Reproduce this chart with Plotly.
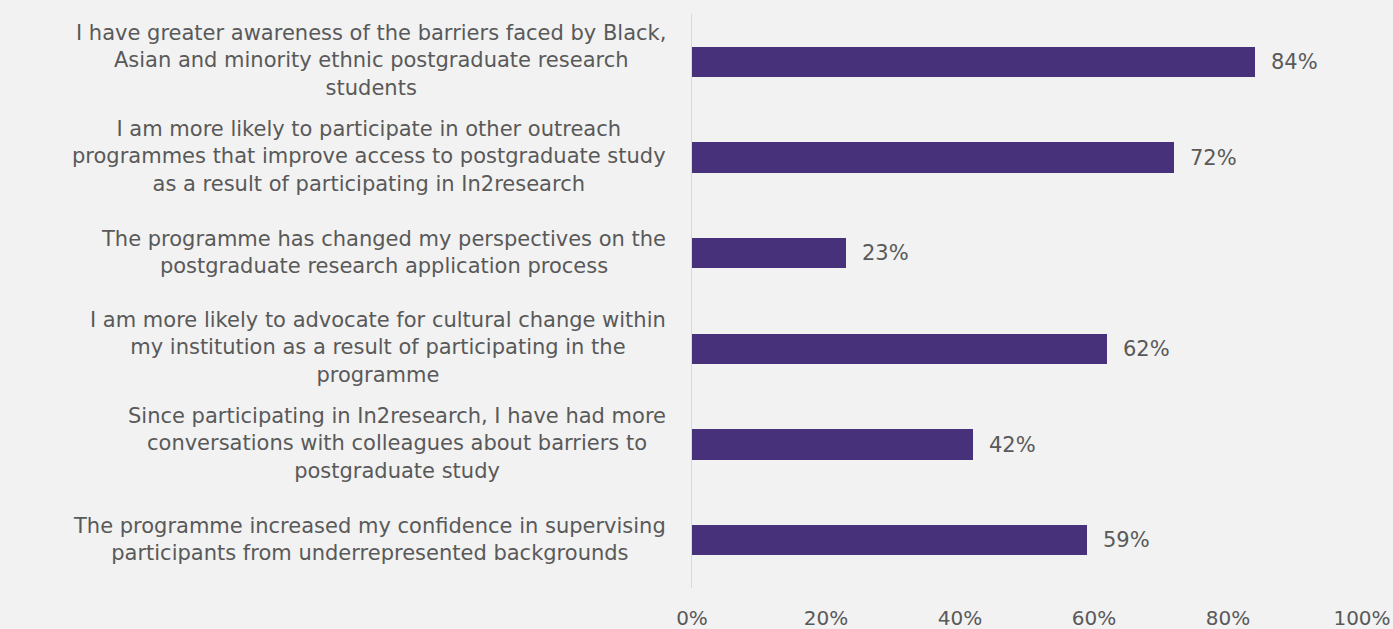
import plotly.graph_objects as go

# Survey statements (top to bottom) and share of respondents agreeing
statements = [
    "I have greater awareness of the barriers faced by Black,<br>Asian and minority ethnic postgraduate research<br>students",
    "I am more likely to participate in other outreach<br>programmes that improve access to postgraduate study<br>as a result of participating in In2research",
    "The programme has changed my perspectives on the<br>postgraduate research application process",
    "I am more likely to advocate for cultural change within<br>my institution as a result of participating in the<br>programme",
    "Since participating in In2research, I have had more<br>conversations with colleagues about barriers to<br>postgraduate study",
    "The programme increased my confidence in supervising<br>participants from underrepresented backgrounds",
]
shares = [0.84, 0.72, 0.23, 0.62, 0.42, 0.59]
tick_values = [0, 0.2, 0.4, 0.6, 0.8, 1.0]

BAR = "#47317a"
TEXT = "#595959"
BG = "#f2f2f2"
FONT = "DejaVu Sans"

W, H = 1393, 629
ML, MR, MT, MB = 692, 31, 14, 41
plot_w = W - ML - MR

fig = go.Figure(
    go.Bar(
        x=shares,
        y=statements,
        orientation="h",
        marker=dict(color=BAR, line=dict(width=0)),
        width=0.315,
        hoverinfo="skip",
    )
)

# Value labels to the right of each bar
for s, v in zip(statements, shares):
    fig.add_annotation(
        x=v, y=s, xref="x", yref="y",
        text=f"{round(v * 100)}%",
        showarrow=False, xanchor="left", yanchor="middle", xshift=14,
        font=dict(family=FONT, size=21, color=TEXT),
    )

# Category labels: right-aligned block, lines centred within it
for s in statements:
    fig.add_annotation(
        x=-24 / plot_w, y=s, xref="paper", yref="y",
        text=s, showarrow=False, xanchor="right", yanchor="middle",
        align="center", yshift=1,
        font=dict(family=FONT, size=21, color=TEXT),
    )

fig.update_layout(
    width=W, height=H,
    margin=dict(l=ML, r=MR, t=MT, b=MB, autoexpand=False),
    paper_bgcolor=BG, plot_bgcolor=BG,
    showlegend=False,
    bargap=0,
    xaxis=dict(
        range=[0, 1],
        tickvals=tick_values,
        tickformat=".0%",
        showgrid=False, zeroline=False, showline=False,
        ticks="outside", ticklen=12, tickcolor="rgba(0,0,0,0)",
        tickfont=dict(family=FONT, size=20, color=TEXT),
        automargin=False,
        fixedrange=True,
    ),
    yaxis=dict(
        categoryorder="array", categoryarray=statements,
        autorange="reversed",
        showticklabels=False, showgrid=False, zeroline=False,
        showline=True, linecolor="#d9d9d9", linewidth=1,
        automargin=False,
        fixedrange=True,
    ),
)

fig.write_html("out.html", config={"displayModeBar": False})
